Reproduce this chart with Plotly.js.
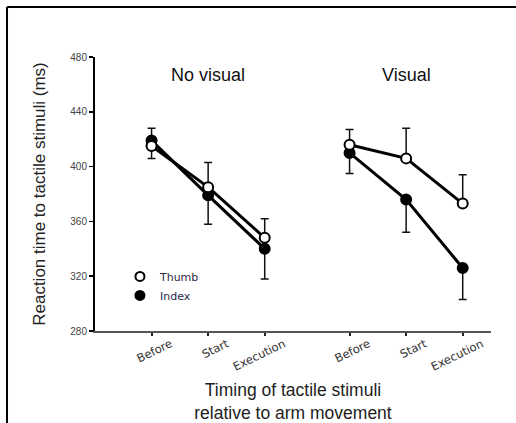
<!DOCTYPE html>
<html><head><meta charset="utf-8">
<script src="https://cdn.plot.ly/plotly-3.0.1.min.js"></script>
<style>html,body{margin:0;padding:0;background:#fff}#c{width:516px;height:423px}</style>
</head><body><div id="c"></div>
<script>
const categories = ['Before', 'Start', 'Execution'];
const conditions = ['No visual', 'Visual'];
const thumbNoVisual = [415, 385, 348];
const indexNoVisual = [419, 379, 340];
const thumbVisual = [416, 406, 373];
const indexVisual = [410, 376, 326];
// error bars (one-sided, as drawn)
const thumbNoVisualUp = [0, 18, 14], thumbNoVisualDown = [9, 0, 0];
const indexNoVisualUp = [9, 0, 0], indexNoVisualDown = [0, 21, 22];
const thumbVisualUp = [11, 22, 21], thumbVisualDown = [0, 0, 0];
const indexVisualUp = [0, 0, 0], indexVisualDown = [15, 24, 23];
const yTicks = [280, 320, 360, 400, 440, 480];

const groupStart = [0, 3.5];
const xs = g => categories.map((c, i) => groupStart[g] + i);

function trace(x, y, up, down, fill) {
  return {
    x: x, y: y, type: 'scatter', mode: 'lines+markers', showlegend: false,
    line: {color: '#000', width: 3},
    marker: {size: 10, color: fill, line: {color: '#000', width: 2}},
    error_y: {type: 'data', symmetric: false, array: up, arrayminus: down,
              color: '#111', thickness: 1.5, width: 4},
    hoverinfo: 'skip'
  };
}
const data = [
  trace(xs(0), indexNoVisual, indexNoVisualUp, indexNoVisualDown, '#000'),
  trace(xs(0), thumbNoVisual, thumbNoVisualUp, thumbNoVisualDown, '#fff'),
  trace(xs(1), indexVisual, indexVisualUp, indexVisualDown, '#000'),
  trace(xs(1), thumbVisual, thumbVisualUp, thumbVisualDown, '#fff'),
  {x: [null], y: [null], type: 'scatter', mode: 'markers', name: 'Thumb',
   marker: {size: 9, color: '#fff', line: {color: '#000', width: 2}}},
  {x: [null], y: [null], type: 'scatter', mode: 'markers', name: 'Index',
   marker: {size: 9, color: '#000', line: {color: '#000', width: 2}}}
];

const tickvals = [].concat(xs(0), xs(1));
const ticktext = [].concat(categories, categories);

const layout = {
  width: 516, height: 423,
  margin: {l: 95, r: 25, t: 57, b: 92},
  paper_bgcolor: '#fff', plot_bgcolor: '#fff',
  font: {family: 'Arial, Liberation Sans, sans-serif', color: '#222'},
  xaxis: {
    range: [-1, 6], tickvals: tickvals, ticktext: ticktext,
    tickangle: -26, ticklabelshift: 19, ticklabelstandoff: -3,
    tickfont: {size: 11.5, color: '#333', family: 'DejaVu Sans, sans-serif'},
    showgrid: false, zeroline: false,
    showline: true, linecolor: '#555', linewidth: 2,
    ticks: 'outside', ticklen: 3, tickwidth: 2, tickcolor: '#222',
    title: {text: 'Timing of tactile stimuli<br>relative to arm movement',
            font: {size: 17.5, color: '#222'}, standoff: 30}
  },
  yaxis: {
    range: [280, 480], tickvals: yTicks,
    tickfont: {size: 10, color: '#444'},
    showgrid: false, zeroline: false,
    showline: true, linecolor: '#000', linewidth: 2,
    ticks: 'outside', ticklen: 4, tickwidth: 1.5, tickcolor: '#000',
    title: {text: 'Reaction time to tactile stimuli (ms)', font: {size: 17, color: '#222'}, standoff: 20}
  },
  legend: {x: 0.063, y: 0.252, xanchor: 'left', yanchor: 'top',
           bgcolor: 'rgba(0,0,0,0)', font: {size: 11, color: '#2a2a48', family: 'DejaVu Sans, sans-serif'},
           tracegroupgap: 0, itemwidth: 30},
  annotations: conditions.map((c, g) => ({
    text: c, xref: 'x', yref: 'paper', x: groupStart[g] + 1, y: 0.934, yanchor: 'middle',
    showarrow: false, font: {size: 18, color: '#111'}
  })),
  shapes: [
    {type: 'line', xref: 'paper', yref: 'paper', x0: -0.2222, x1: 1.07, y0: 1.1825, y1: 1.1825,
     line: {color: '#000', width: 2}},
    {type: 'line', xref: 'paper', yref: 'paper', x0: -0.2222, x1: -0.2222, y0: 1.1825, y1: -0.35,
     line: {color: '#000', width: 2}}
  ]
};
Plotly.newPlot('c', data, layout, {displayModeBar: false, staticPlot: true});
</script></body></html>
